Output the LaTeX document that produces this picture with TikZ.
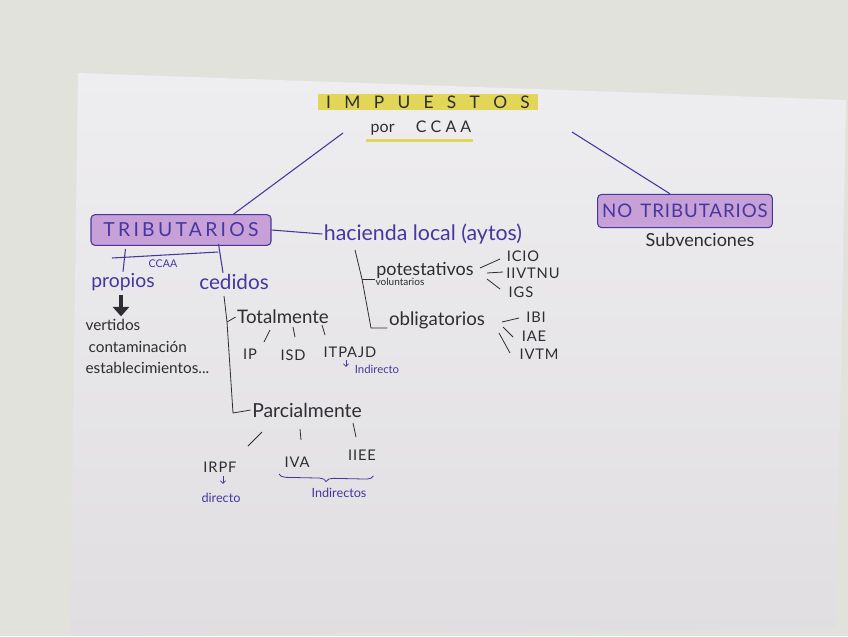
\documentclass[tikz,border=0pt]{standalone}
\usepackage{fontspec}
\setmainfont{Lato}
\usetikzlibrary{decorations.pathreplacing,arrows.meta,calc}
\definecolor{wall}{RGB}{226,226,221}
\definecolor{paperA}{RGB}{238,237,240}
\definecolor{paperB}{RGB}{224,222,225}
\definecolor{ink}{RGB}{45,45,50}
\definecolor{pink}{RGB}{70,55,160}
\definecolor{hlpurple}{RGB}{198,160,214}
\definecolor{hlyellow}{RGB}{226,214,88}
\tikzset{
  txt/.style={font=\fontsize{13.5}{13.5}\selectfont, text=ink, inner sep=1pt},
  ptxt/.style={font=\fontsize{13.5}{13.5}\selectfont, text=pink, inner sep=1pt},
  tiny/.style={font=\fontsize{7.5}{7.5}\selectfont, inner sep=1pt},
  lower/.style={font=\fontsize{11}{11}\selectfont\addfontfeature{LetterSpace=6}, text=ink, inner sep=1pt},
  listtxt/.style={font=\fontsize{11.5}{11.5}\selectfont, text=ink, inner sep=1pt, anchor=west},
  tbox/.style={draw=pink, fill=hlpurple, rounded corners=3pt, line width=0.8pt,
    text=pink, inner sep=2pt},
  link/.style={draw=ink, line width=0.6pt},
  plink/.style={draw=pink, line width=0.8pt}
}
\begin{document}
\begin{tikzpicture}[x=0.75pt,y=-0.75pt]
\useasboundingbox (0,0) rectangle (848,636);
\fill[wall] (0,0) rectangle (848,636);
\shade[top color=paperA, bottom color=paperB] (78,73) -- (846,100) -- (836,628) -- (70,636) -- cycle;

% title
\node[txt, fill=hlyellow, minimum width=165pt, minimum height=12pt, inner sep=0pt,
  font=\fontsize{13}{13}\selectfont] (title) at (428,102)
  {I\hspace{10pt}M\hspace{10pt}P\hspace{10pt}U\hspace{10pt}E\hspace{10pt}S\hspace{10pt}T\hspace{10pt}O\hspace{10pt}S};
\node[txt, font=\fontsize{12}{12}\selectfont] (por) at (421,128) {por\hspace{16pt}C C A A};
\draw[hlyellow, line width=2.5pt] ($(por.south west)+(-3,4)$) coordinate (u1) -- ($(por.south east)+(0,4)$) coordinate (u2);

% main boxes
\node[tbox, minimum width=135pt, minimum height=23pt,
  font=\fontsize{14.5}{14.5}\selectfont\addfontfeature{LetterSpace=17}] (trib) at (181,230) {TRIBUTARIOS};
\node[tbox, minimum width=131pt, minimum height=25pt,
  font=\fontsize{14}{14}\selectfont\addfontfeature{LetterSpace=5}] (notrib) at (685,211) {NO\hspace{6pt}TRIBUTARIOS};
\node[txt] (subv) at (700,240) {Subvenciones};
\coordinate (t1) at (343,133);
\coordinate (t2) at (572,132);
\draw[plink] (t1) -- ($(trib.north east)+(-38,0)$);
\draw[plink] (t2) -- ($(notrib.north)+(-15,0)$);

% hacienda local
\node[ptxt, font=\fontsize{16}{16}\selectfont] (hac) at (423,234) {hacienda local (aytos)};
\draw[plink] (trib.east) -- (hac.west);

% propios / cedidos
\node[ptxt, font=\fontsize{14.5}{14.5}\selectfont] (prop) at (123,282) {propios};
\node[ptxt, font=\fontsize{15.5}{15.5}\selectfont] (ced) at (234,282) {cedidos};
\coordinate (c1) at (112,258);
\coordinate (c2) at (218,252);
\draw[plink] ($(trib.south west)+(35,3)$) -- (prop.north);
\draw[plink] (c1) -- (c2);
\draw[plink] ($(trib.south west)+(128,-2)$) -- ($(ced.north)+(-11,0)$);
\node[tiny, text=pink, font=\fontsize{8}{8}\selectfont] (ccaa) at (163,264) {CCAA};

% propios arrow and list
\draw[ink, line width=3pt, -{Triangle[width=12pt,length=7pt]}] ($(prop.south)+(-2,3)$) -- ++(0,21) coordinate (arr);
\node[listtxt] (vert) at (84,325) {vertidos};
\node[listtxt] (cont) at (87,347) {contaminación};
\node[listtxt] (est) at (84,368) {establecimientos...};

% cedidos bracket
\node[txt, font=\fontsize{14}{14}\selectfont] (tot) at (283,317) {Totalmente};
\node[txt, font=\fontsize{14.5}{14.5}\selectfont] (parc) at (307,410) {Parcialmente};
\coordinate (b0) at (224,296);
\coordinate (b1) at (227,322);
\coordinate (b2) at (233,413);
\draw[link] (b0) -- (b1) -- (b2) -- (parc.west);
\draw[link] (b1) -- (tot.west);

\node[lower] (ip) at (250,354) {IP};
\node[lower] (isd) at (293,355) {ISD};
\node[lower] (itp) at (350,352) {ITPAJD};
\draw[link] (264,342) -- (270,330);
\draw[link] (293,327) -- (295,337);
\draw[link] (322,325) -- (325,335);
\draw[pink, line width=0.5pt, -{Straight Barb[length=2pt]}] ($(itp.south)+(-4,1)$) -- ++(0,7) coordinate (ia);
\node[tiny, text=pink, font=\fontsize{8.5}{8.5}\selectfont] (ind1) at (377,369) {Indirecto};

\node[lower] (irpf) at (220,467) {IRPF};
\node[lower] (iva) at (297,462) {IVA};
\node[lower] (iiee) at (362,455) {IIEE};
\draw[link] (248,446) -- (262,432);
\draw[link] (300,429) -- (301,440);
\draw[link] (353,423) -- (356,437);
\draw[pink, line width=0.5pt, -{Straight Barb[length=2pt]}] ($(irpf.south)+(3,2)$) -- ++(0,8) coordinate (da);
\node[tiny, text=pink, font=\fontsize{9.5}{9.5}\selectfont] (dir) at (221,498) {directo};
\draw[pink, line width=0.6pt, decorate, decoration={brace, mirror, amplitude=5pt}]
  ($(iva.south west)+(-4,5)$) -- ($(iiee.south east)+(-4,14)$);
\node[tiny, text=pink, font=\fontsize{9.5}{9.5}\selectfont] (ind2) at (339,493) {Indirectos};

% hacienda local bracket
\node[txt] (pot) at (425,270) {potestativos};
\node[tiny, text=ink] (vol) at (400,282) {voluntarios};
\node[txt, font=\fontsize{14}{14}\selectfont] (obl) at (437,320) {obligatorios};
\coordinate (h0) at (355,250);
\coordinate (h1) at (362,279);
\coordinate (h2) at (371,328);
\draw[link] (h0) -- (h1) -- (h2) -- ($(obl.west)+(0,8)$);
\draw[link] (h1) -- ($(pot.west)+(0,9)$);

\node[lower] (icio) at (523,256) {ICIO};
\node[lower] (iivtnu) at (533,273) {IIVTNU};
\node[lower] (igs) at (521,292) {IGS};
\draw[link] (480,268) -- (500,259);
\draw[link] (487,273) -- (503,272);
\draw[link] (487,279) -- (500,289);

\node[lower] (ibi) at (536,317) {IBI};
\node[lower] (iae) at (534,336) {IAE};
\node[lower] (ivtm) at (539,354) {IVTM};
\draw[link] (502,322) -- (519,318);
\draw[link] (503,327) -- (513,337);
\draw[link] (499,333) -- (510,353);
\end{tikzpicture}
\end{document}
